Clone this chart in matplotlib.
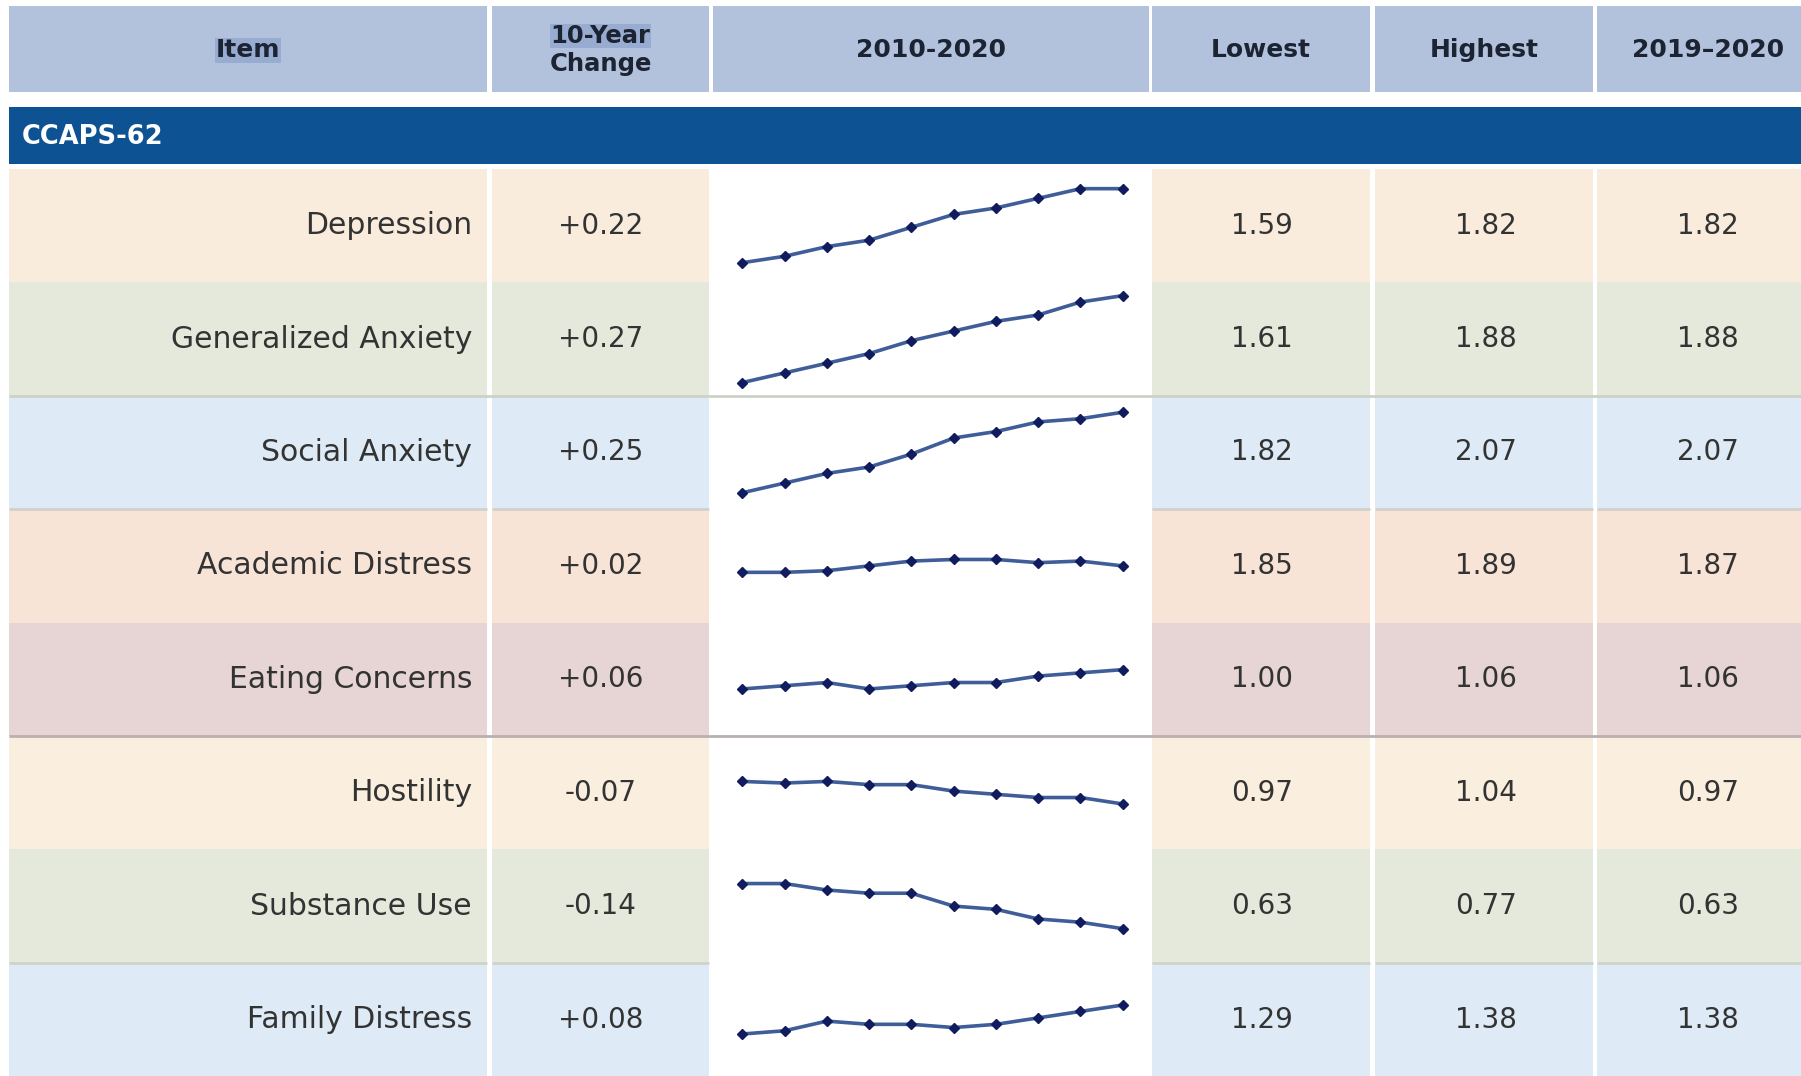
import matplotlib
matplotlib.use("Agg")
import matplotlib.pyplot as plt
from matplotlib.patches import Rectangle

# ---------------- data ----------------
items = ["Depression", "Generalized Anxiety", "Social Anxiety", "Academic Distress",
         "Eating Concerns", "Hostility", "Substance Use", "Family Distress"]
change = ["+0.22", "+0.27", "+0.25", "+0.02", "+0.06", "-0.07", "-0.14", "+0.08"]
lowest = ["1.59", "1.61", "1.82", "1.85", "1.00", "0.97", "0.63", "1.29"]
highest = ["1.82", "1.88", "2.07", "1.89", "1.06", "1.04", "0.77", "1.38"]
latest = ["1.82", "1.88", "2.07", "1.87", "1.06", "0.97", "0.63", "1.38"]

trend_depression = [1.59, 1.61, 1.64, 1.66, 1.70, 1.74, 1.76, 1.79, 1.82, 1.82]
trend_gen_anxiety = [1.61, 1.64, 1.67, 1.70, 1.74, 1.77, 1.80, 1.82, 1.86, 1.88]
trend_social_anxiety = [1.82, 1.85, 1.88, 1.90, 1.94, 1.99, 2.01, 2.04, 2.05, 2.07]
trend_academic = [1.85, 1.85, 1.855, 1.87, 1.885, 1.89, 1.89, 1.88, 1.885, 1.87]
trend_eating = [1.00, 1.01, 1.02, 1.00, 1.01, 1.02, 1.02, 1.04, 1.05, 1.06]
trend_hostility = [1.04, 1.035, 1.04, 1.03, 1.03, 1.01, 1.00, 0.99, 0.99, 0.97]
trend_substance = [0.77, 0.77, 0.75, 0.74, 0.74, 0.70, 0.69, 0.66, 0.65, 0.63]
trend_family = [1.29, 1.30, 1.33, 1.32, 1.32, 1.31, 1.32, 1.34, 1.36, 1.38]
trends = [trend_depression, trend_gen_anxiety, trend_social_anxiety, trend_academic,
          trend_eating, trend_hostility, trend_substance, trend_family]

headers = ["Item", "10-Year\nChange", "2010-2020", "Lowest", "Highest", "2019\u20132020"]
section = "CCAPS-62"

# ---------------- style / layout ----------------
W, H = 1801, 1076
row_colors = ["#faecdc", "#e4e9dc", "#deeaf5", "#f8e4d6",
              "#e6d5d4", "#faefde", "#e4e9dc", "#deeaf5"]
header_color = "#b2c2dc"
band_color = "#0d5394"
text_color = "#333333"
head_text = "#1c2333"

cols = [(9, 487), (492, 709), (713, 1149), (1152, 1370), (1375, 1593), (1597, 1819)]
head_top, head_bot = 6, 92
band_top, band_bot = 107, 164
row_top0, row_h = 169, 113.4

fig = plt.figure(figsize=(W / 100, H / 100), dpi=100, facecolor="white")
bg = fig.add_axes([0, 0, 1, 1])
bg.set_xlim(0, W)
bg.set_ylim(H, 0)
bg.axis("off")

# header
for j, (x0, x1) in enumerate(cols):
    bg.add_patch(Rectangle((x0, head_top), x1 - x0, head_bot - head_top,
                           facecolor=header_color, edgecolor="none"))
    cx = (x0 + x1) / 2
    if j == 1:
        bg.text(cx, 36, "10-Year", ha="center", va="center", fontsize=17.5,
                fontweight="bold", color=head_text, family="DejaVu Sans",
                bbox=dict(boxstyle="square,pad=0.02", fc="#97acd0", ec="none"))
        bg.text(cx, 64, "Change", ha="center", va="center", fontsize=17.5,
                fontweight="bold", color=head_text, family="DejaVu Sans")
    elif j == 0:
        bg.text(cx, 50, headers[j], ha="center", va="center", fontsize=18,
                fontweight="bold", color=head_text, family="DejaVu Sans",
                bbox=dict(boxstyle="square,pad=0.02", fc="#97acd0", ec="none"))
    else:
        bg.text(cx, 50, headers[j], ha="center", va="center", fontsize=18,
                fontweight="bold", color=head_text, family="DejaVu Sans")

# section band
bg.add_patch(Rectangle((9, band_top), W - 9, band_bot - band_top,
                       facecolor=band_color, edgecolor="none"))
bg.text(22, (band_top + band_bot) / 2 + 1, section, ha="left", va="center",
        fontsize=18.5, fontweight="bold", color="white", family="DejaVu Sans")

# body rows
for i, name in enumerate(items):
    top = row_top0 + i * row_h
    cy = top + row_h / 2
    for j, (x0, x1) in enumerate(cols):
        if j == 2:
            continue
        bg.add_patch(Rectangle((x0, top), x1 - x0, row_h,
                               facecolor=row_colors[i], edgecolor="none"))
    bg.text(cols[0][1] - 15, cy, name, ha="right", va="center", fontsize=21.5,
            color=text_color, family="DejaVu Sans")
    bg.text((cols[1][0] + cols[1][1]) / 2, cy, change[i], ha="center", va="center",
            fontsize=20, color=text_color, family="DejaVu Sans")
    bg.text(1262, cy, lowest[i], ha="center", va="center",
            fontsize=20, color=text_color, family="DejaVu Sans")
    bg.text(1486, cy, highest[i], ha="center", va="center",
            fontsize=20, color=text_color, family="DejaVu Sans")
    bg.text(1708, cy, latest[i], ha="center", va="center",
            fontsize=20, color=text_color, family="DejaVu Sans")

# separator lines
for k, (col, full) in {2: ("#cdd2c6", True), 3: ("#d2d0cc", False),
                       5: ("#b9b0b0", True), 7: ("#cdd4cc", False)}.items():
    y = row_top0 + k * row_h
    if full:
        bg.plot([9, W], [y, y], color=col, lw=2, solid_capstyle="butt")
    else:
        for j, (x0, x1) in enumerate(cols):
            if j != 2:
                bg.plot([x0, x1], [y, y], color=col, lw=2, solid_capstyle="butt")

# sparklines
sx0, sx1 = cols[2]
first_x, step = 742.3, 42.27
half_span = (row_h / 2) / 322.0
n = len(trend_depression)
for i, vals in enumerate(trends):
    top = row_top0 + i * row_h
    ax = fig.add_axes([sx0 / W, 1 - (top + row_h) / H, (sx1 - sx0) / W, row_h / H])
    ax.patch.set_alpha(0)
    ax.axis("off")
    ax.set_xlim((sx0 - first_x) / step, (sx1 - first_x) / step)
    mid = (min(vals) + max(vals)) / 2
    ax.set_ylim(mid - half_span, mid + half_span)
    ax.plot(range(n), vals, color="#3f5d98", lw=2.6, marker="D", markersize=5.5,
            markerfacecolor="#101c5e", markeredgecolor="#101c5e", zorder=3)

fig.savefig("out.png", dpi=100, facecolor="white")
